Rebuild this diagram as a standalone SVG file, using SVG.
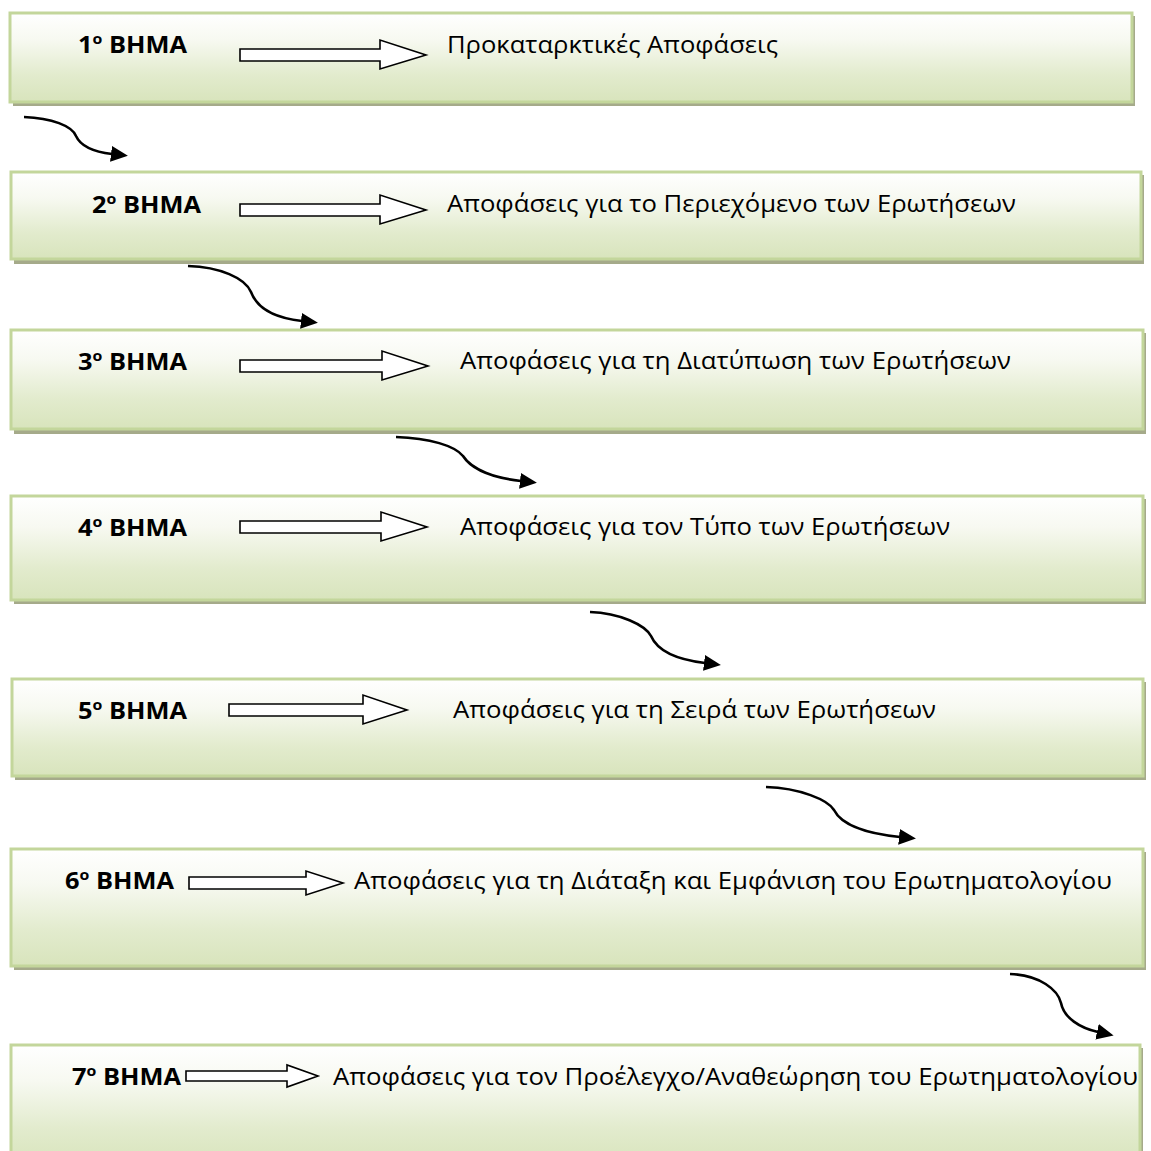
<svg xmlns="http://www.w3.org/2000/svg" width="1151" height="1151" viewBox="0 0 1151 1151">
  <defs>
    <linearGradient id="boxFill" x1="0" y1="0" x2="0" y2="1">
      <stop offset="0" stop-color="#ffffff"/>
      <stop offset="0.3" stop-color="#f7f9f1"/>
      <stop offset="0.7" stop-color="#e2ebcd"/>
      <stop offset="1" stop-color="#d8e4bc"/>
    </linearGradient>
    <marker id="head" markerUnits="userSpaceOnUse" viewBox="0 0 17 16" refX="1" refY="8" markerWidth="17" markerHeight="16" orient="auto">
      <path d="M0,0 L17,8 L0,16 Z" fill="#000"/>
    </marker>
    <style>
      .shadow { fill: #a5aa8a; }
      .box { fill: url(#boxFill); stroke: #c3d69b; stroke-width: 3; }
      .step { font-family: "Open Sans", "Noto Sans", sans-serif; font-weight: bold; font-size: 24px; fill: #000; }
      .sup { font-size: 15px; }
      .label { font-family: "Open Sans", "Noto Sans", sans-serif; font-size: 24px; fill: #000; }
      .block { fill: #fff; stroke: #000; stroke-width: 1.6; stroke-linejoin: miter; }
      .flow { fill: none; stroke: #000; stroke-width: 2.6; marker-end: url(#head); }
    </style>
  </defs>
  <rect width="1151" height="1151" fill="#fff"/>

  <!-- Step 1 -->
  <g id="step1">
    <rect class="shadow" x="13" y="16" width="1122" height="90"/>
    <rect class="box" x="10" y="13" width="1122" height="89"/>
    <text class="step" x="78" y="53" textLength="109" lengthAdjust="spacingAndGlyphs">1<tspan class="sup" dy="-9">o</tspan><tspan dy="9"> ΒΗΜΑ</tspan></text>
    <polygon class="block" points="240,49 380,49 380,40 426,55 380,69 380,61 240,61"/>
    <text class="label" x="447" y="53" textLength="331" lengthAdjust="spacingAndGlyphs">Προκαταρκτικές Αποφάσεις</text>
  </g>

  <!-- Step 2 -->
  <g id="step2">
    <rect class="shadow" x="14" y="175" width="1130" height="89"/>
    <rect class="box" x="11" y="172" width="1130" height="87"/>
    <text class="step" x="92" y="213" textLength="109" lengthAdjust="spacingAndGlyphs">2<tspan class="sup" dy="-9">o</tspan><tspan dy="9"> ΒΗΜΑ</tspan></text>
    <polygon class="block" points="240,204 380,204 380,195 426,210 380,224 380,216 240,216"/>
    <text class="label" x="447" y="212" textLength="569" lengthAdjust="spacingAndGlyphs">Αποφάσεις για το Περιεχόμενο των Ερωτήσεων</text>
  </g>

  <!-- Step 3 -->
  <g id="step3">
    <rect class="shadow" x="14" y="333" width="1132" height="101"/>
    <rect class="box" x="11" y="330" width="1132" height="99"/>
    <text class="step" x="78" y="370" textLength="109" lengthAdjust="spacingAndGlyphs">3<tspan class="sup" dy="-9">o</tspan><tspan dy="9"> ΒΗΜΑ</tspan></text>
    <polygon class="block" points="240,360 382,360 382,351 428,366 382,380 382,372 240,372"/>
    <text class="label" x="460" y="369" textLength="551" lengthAdjust="spacingAndGlyphs">Αποφάσεις για τη Διατύπωση των Ερωτήσεων</text>
  </g>

  <!-- Step 4 -->
  <g id="step4">
    <rect class="shadow" x="14" y="499" width="1132" height="105"/>
    <rect class="box" x="11" y="496" width="1132" height="104"/>
    <text class="step" x="78" y="536" textLength="109" lengthAdjust="spacingAndGlyphs">4<tspan class="sup" dy="-9">o</tspan><tspan dy="9"> ΒΗΜΑ</tspan></text>
    <polygon class="block" points="240,521 381,521 381,512 427,527 381,541 381,533 240,533"/>
    <text class="label" x="460" y="535" textLength="490" lengthAdjust="spacingAndGlyphs">Αποφάσεις για τον Τύπο των Ερωτήσεων</text>
  </g>

  <!-- Step 5 -->
  <g id="step5">
    <rect class="shadow" x="15" y="682" width="1131" height="98"/>
    <rect class="box" x="12" y="679" width="1131" height="97"/>
    <text class="step" x="78" y="719" textLength="109" lengthAdjust="spacingAndGlyphs">5<tspan class="sup" dy="-9">o</tspan><tspan dy="9"> ΒΗΜΑ</tspan></text>
    <polygon class="block" points="229,704 363,704 363,695 407,710 363,724 363,716 229,716"/>
    <text class="label" x="453" y="718" textLength="483" lengthAdjust="spacingAndGlyphs">Αποφάσεις για τη Σειρά των Ερωτήσεων</text>
  </g>

  <!-- Step 6 -->
  <g id="step6">
    <rect class="shadow" x="14" y="852" width="1132" height="118"/>
    <rect class="box" x="11" y="849" width="1132" height="117"/>
    <text class="step" x="65" y="889" textLength="109" lengthAdjust="spacingAndGlyphs">6<tspan class="sup" dy="-9">o</tspan><tspan dy="9"> ΒΗΜΑ</tspan></text>
    <polygon class="block" points="189,877 306,877 306,871 343,883 306,895 306,889 189,889"/>
    <text class="label" x="354" y="889" textLength="758" lengthAdjust="spacingAndGlyphs">Αποφάσεις για τη Διάταξη και Εμφάνιση του Ερωτηματολογίου</text>
  </g>

  <!-- Step 7 -->
  <g id="step7">
    <rect class="shadow" x="14" y="1048" width="1129" height="120"/>
    <rect class="box" x="11" y="1045" width="1129" height="120"/>
    <text class="step" x="72" y="1085" textLength="109" lengthAdjust="spacingAndGlyphs">7<tspan class="sup" dy="-9">o</tspan><tspan dy="9"> ΒΗΜΑ</tspan></text>
    <polygon class="block" points="186,1071 287,1071 287,1065 318,1076 287,1087 287,1081 186,1081"/>
    <text class="label" x="333" y="1085" textLength="805" lengthAdjust="spacingAndGlyphs">Αποφάσεις για τον Προέλεγχο/Αναθεώρηση του Ερωτηματολογίου</text>
  </g>

  <!-- Curved connectors between steps -->
  <g id="connectors">
    <path class="flow" d="M24,117 C52,118 72,126 76,136 C81,147 95,152 112,154"/>
    <path class="flow" d="M188,266 C220,267 245,278 251,292 C257,308 275,318 302,321"/>
    <path class="flow" d="M396,437 C430,438 455,446 463,456 C472,470 495,478 521,481"/>
    <path class="flow" d="M590,612 C620,613 645,625 651,636 C658,652 680,660 705,663"/>
    <path class="flow" d="M766,787 C800,788 828,800 834,810 C842,826 870,834 900,837"/>
    <path class="flow" d="M1010,974 C1040,975 1058,990 1061,1003 C1064,1018 1080,1028 1098,1032"/>
  </g>
</svg>
